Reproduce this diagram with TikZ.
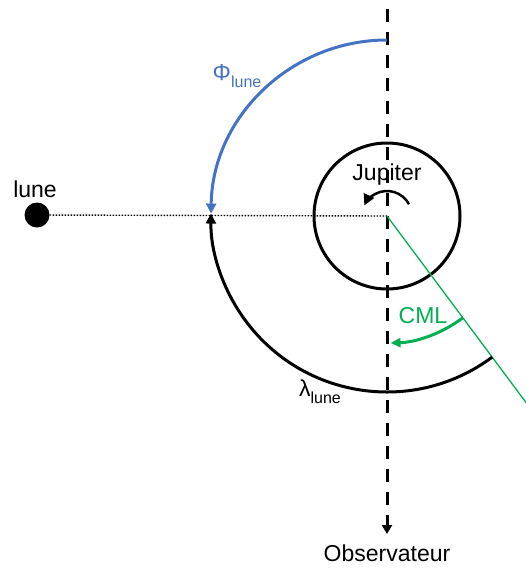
\documentclass[tikz,border=0pt]{standalone}
\usepackage{fontspec}
\setmainfont{Liberation Sans}
\usepackage{tikz}
\usetikzlibrary{arrows.meta,calc,positioning}
\usepackage{xcolor}
\definecolor{PhiBlue}{HTML}{4472C4}
\definecolor{CmlGreen}{HTML}{00B050}
\newcommand{\biglabel}{\fontsize{23}{27}\selectfont}
\newcommand{\sublabel}[2]{#1\raisebox{-0.32em}{\fontsize{16}{18}\selectfont #2}}
\tikzset{
  tipbig/.style={-{Triangle[length=10pt,width=10pt]}},
  sightline/.style={line width=3pt,dash pattern=on 13pt off 10pt,-{Triangle[length=9pt,width=10pt]}},
  planet/.style={circle,draw,line width=3pt,inner sep=0pt},
  moon/.style={circle,fill,inner sep=0pt,minimum size=25pt},
  anglearc/.style={tipbig,line width=3pt},
  label/.style={inner sep=0pt,font=\biglabel}
}

\begin{document}
\begin{tikzpicture}[x=1pt,y=1pt]
  \useasboundingbox (0,0) rectangle (526,-568);
  \coordinate (jup) at (387,-216);
  \coordinate (sighttop) at (387,-9);
  \coordinate (sightend) at (387,-534);

  \node[planet,minimum size=146pt] (jupiter) at (jup) {};
  \node[label] (jupname) at (387,-175) {Jupiter};
  \node[moon] (lune) at (37,-215) {};
  \node[label] (lunename) at (35,-189) {lune};
  \node[label] (obs) at (387,-553) {Observateur};

  \draw[line width=1.4pt,dash pattern=on 1.5pt off 1.5pt] (lune) -- (jup);
  \draw[sightline] (sighttop) -- (sightend);

  % rotation of Jupiter
  \draw[line width=2.5pt,-{Triangle[length=11pt,width=11pt]}] ([shift={(28:25)}]jup) arc[start angle=28,end angle=155,radius=25];

  % central meridian direction
  \draw[CmlGreen,line width=1.3pt] (jup) -- ([shift={(-53.3:233)}]jup) coordinate (cmlend);

  \draw[anglearc,PhiBlue] ([shift={(90:176)}]jup) arc[start angle=90,end angle=179.2,radius=176];
  \node[label,text=PhiBlue] (philabel) at (237,-76) {\sublabel{Φ}{lune}};

  \draw[anglearc] ([shift={(-53.3:176)}]jup) arc[start angle=-53.3,end angle=-180.8,radius=176];
  \node[label] (lamlabel) at (320,-392) {\sublabel{λ}{lune}};

  \draw[anglearc,CmlGreen,-{Triangle[length=10pt,width=9pt]}] ([shift={(-53.3:127)}]jup) arc[start angle=-53.3,end angle=-88.4,radius=127];
  \node[label,text=CmlGreen] (cmllabel) at (423,-316) {CML};
\end{tikzpicture}
\end{document}
